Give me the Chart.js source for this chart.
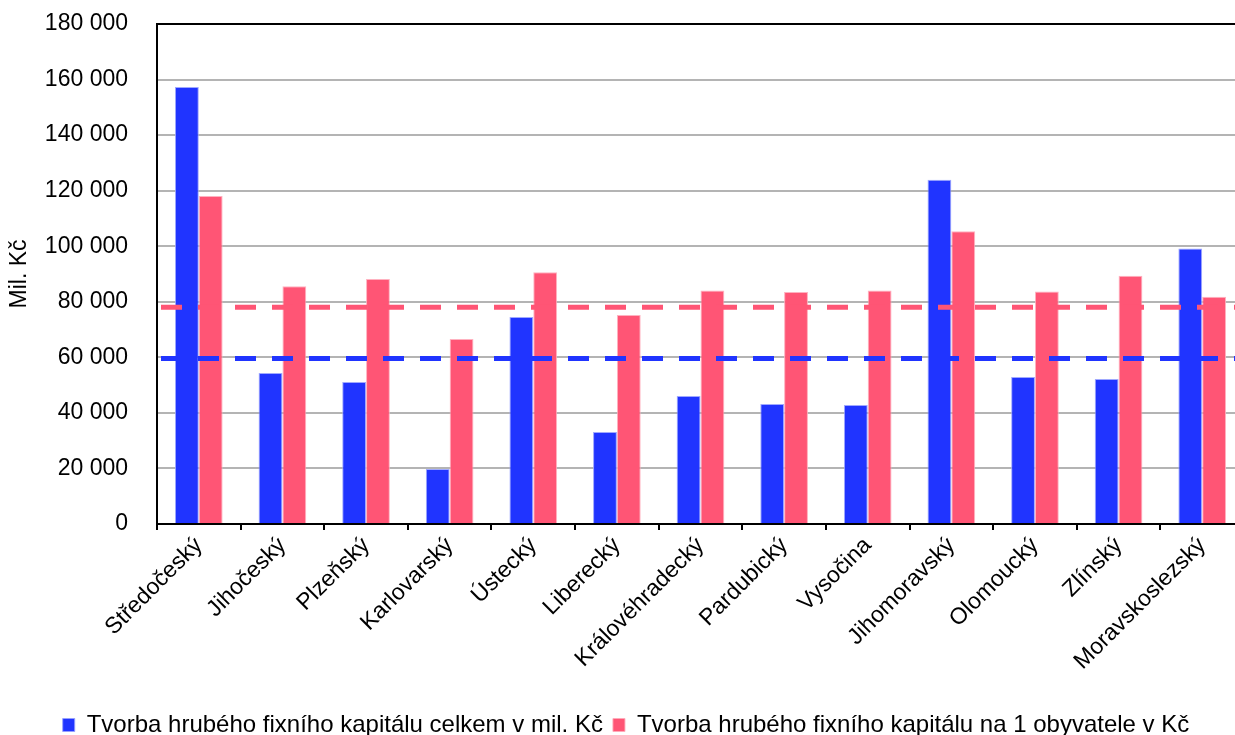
<!DOCTYPE html>
<html lang="cs">
<head>
<meta charset="utf-8">
<title>Tvorba hrubého fixního kapitálu podle krajů</title>
<script src="https://cdn.jsdelivr.net/npm/chart.js@4.4.1/dist/chart.umd.min.js"></script>
<style>
  html, body { margin: 0; padding: 0; background: #fff; overflow: hidden; }
  #wrap { width: 1235px; height: 735px; overflow: hidden; position: relative; }
  canvas { display: block; }
</style>
</head>
<body>
<div id="wrap"><canvas id="chart" width="1254" height="747"></canvas></div>
<script>
// Kraje
const regions = ['Středočeský', 'Jihočeský', 'Plzeňský', 'Karlovarský', 'Ústecký', 'Liberecký',
  'Královéhradecký', 'Pardubický', 'Vysočina', 'Jihomoravský', 'Olomoucký', 'Zlínský', 'Moravskoslezský'];

// Tvorba hrubého fixního kapitálu celkem (mil. Kč)
const gfcfTotal = [157300, 54400, 51100, 19800, 74500, 33100, 46100, 43200, 42800, 123900, 52900, 52200, 99200];

// Tvorba hrubého fixního kapitálu na 1 obyvatele (Kč)
const gfcfPerCapita = [118100, 85600, 88200, 66600, 90600, 75200, 84100, 83500, 84100, 105400, 83700, 89400, 81800];

// Průměrné úrovně (přerušované čáry)
const avgTotal = [59600];
const avgPerCapita = [78000];

// Hodnoty na svislé ose
const yTickValues = [0, 20000, 40000, 60000, 80000, 100000, 120000, 140000, 160000, 180000];

const BLUE = '#2034ff';
const PINK = '#ff5575';
const FONT = 'Liberation Sans, Arial, sans-serif';

const fmt = v => String(v).replace(/\B(?=(\d{3})+(?!\d))/g, ' ');

// Přerušované vodorovné úrovně přes celou šířku kreslicí plochy
const levelLines = {
  id: 'levelLines',
  afterDatasetsDraw(chart) {
    const { ctx, chartArea, scales } = chart;
    const levels = [
      { value: avgPerCapita[0], color: PINK },
      { value: avgTotal[0], color: BLUE }
    ];
    ctx.save();
    ctx.beginPath();
    ctx.rect(chartArea.left, chartArea.top, chartArea.right - chartArea.left, chartArea.bottom - chartArea.top);
    ctx.clip();
    ctx.lineWidth = 5;
    ctx.lineCap = 'butt';
    ctx.setLineDash([21, 16]);
    ctx.lineDashOffset = 33;
    for (const lv of levels) {
      const y = scales.y.getPixelForValue(lv.value);
      ctx.strokeStyle = lv.color;
      ctx.beginPath();
      ctx.moveTo(chartArea.left, y);
      ctx.lineTo(chartArea.right, y);
      ctx.stroke();
    }
    ctx.restore();
  }
};

new Chart(document.getElementById('chart'), {
  type: 'bar',
  data: {
    labels: regions,
    datasets: [
      {
        label: 'Tvorba hrubého fixního kapitálu celkem v mil. Kč',
        data: gfcfTotal,
        backgroundColor: BLUE,
        borderColor: 'rgba(150,160,255,0.9)',
        borderWidth: 1,
        categoryPercentage: 0.57,
        barPercentage: 1.0
      },
      {
        label: 'Tvorba hrubého fixního kapitálu na 1 obyvatele v Kč',
        data: gfcfPerCapita,
        backgroundColor: PINK,
        borderColor: 'rgba(255,170,185,0.9)',
        borderWidth: 1,
        categoryPercentage: 0.57,
        barPercentage: 1.0
      }
    ]
  },
  plugins: [levelLines],
  options: {
    responsive: false,
    animation: false,
    layout: { padding: { left: 8, right: 10, top: 24, bottom: 0 } },
    plugins: {
      tooltip: { enabled: false },
      legend: {
        position: 'bottom',
        labels: {
          boxWidth: 12,
          boxHeight: 13,
          padding: 10,
          color: '#000',
          font: { family: FONT, size: 24 }
        }
      }
    },
    scales: {
      x: {
        offset: true,
        grid: {
          drawOnChartArea: false,
          drawTicks: true,
          tickLength: 6,
          color: '#000',
          lineWidth: 2
        },
        border: { color: '#000', width: 2 },
        ticks: {
          color: '#000',
          font: { family: FONT, size: 23 },
          maxRotation: 45,
          minRotation: 45,
          autoSkip: false,
          padding: 2
        },
        afterFit: s => { s.height = 179; }
      },
      y: {
        min: 0,
        max: 180000,
        afterBuildTicks: s => { s.ticks = yTickValues.map(v => ({ value: v })); },
        grid: {
          drawTicks: true,
          tickLength: 26,
          tickColor: 'rgba(0,0,0,0)',
          color: c => (c.tick && c.tick.value === 180000) ? '#000' : '#b4b4b4',
          lineWidth: 2
        },
        border: { color: '#000', width: 2 },
        ticks: {
          color: '#000',
          font: { family: FONT, size: 23 },
          padding: 3,
          callback: v => fmt(v)
        },
        title: {
          display: true,
          text: 'Mil. Kč',
          color: '#000',
          font: { family: FONT, size: 23, lineHeight: 1 },
          padding: { top: 0, bottom: 0 }
        },
        afterFit: s => { s.width = 149; }
      }
    }
  }
});
</script>
</body>
</html>
